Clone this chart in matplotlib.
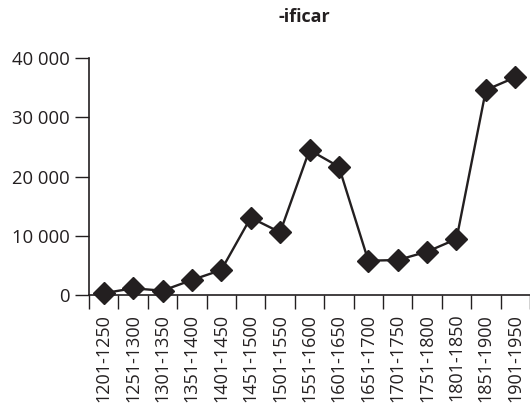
import matplotlib
matplotlib.use("Agg")
import matplotlib.pyplot as plt

categories = ["1201-1250", "1251-1300", "1301-1350", "1351-1400", "1401-1450",
              "1451-1500", "1501-1550", "1551-1600", "1601-1650", "1651-1700",
              "1701-1750", "1751-1800", "1801-1850", "1851-1900", "1901-1950"]
values = [300, 1130, 730, 2530, 4220, 13050, 10580, 24470, 21650, 5790,
          5900, 7310, 9450, 34600, 36740]
yticks = [0, 10000, 20000, 30000, 40000]
ytick_labels = ["0", "10 000", "20 000", "30 000", "40 000"]
title = "-ificar"

plt.rcParams['font.family'] = ['Open Sans', 'DejaVu Sans']
col = "#231f20"

fig = plt.figure(figsize=(5.30, 4.07), dpi=100)
ax = fig.add_axes([89/530, 1 - 295/407, 1 - 89/530, (295 - 58)/407])

x = list(range(len(categories)))
ax.plot(x, values, color=col, lw=1.7, marker="D", ms=11.5, mfc=col, mec=col, clip_on=False, zorder=3)

ax.set_xlim(-0.5, len(categories) - 0.5)
ax.set_ylim(0, 40000)
ax.set_yticks(yticks)
ax.set_yticklabels(ytick_labels)
ax.set_xticks([i + 0.5 for i in range(-1, len(categories))], minor=False)
ax.set_xticklabels([])
ax.set_xticks(x, minor=True)
ax.set_xticklabels(categories, minor=True, rotation=90)
ax.tick_params(axis='x', which='minor', length=0, pad=13.5, labelsize=13, colors=col)
ax.tick_params(axis='x', which='major', length=10, width=1, color=col)
ax.tick_params(axis='y', length=10, width=1, color=col, labelsize=13.3, labelcolor=col, pad=4)

for s in ["top", "right"]:
    ax.spines[s].set_visible(False)
for s in ["left", "bottom"]:
    ax.spines[s].set_color(col)
    ax.spines[s].set_linewidth(1.2)

fig.text(304 / 530, 1 - 17 / 407, title, ha="center", va="center",
         fontsize=13, fontweight="bold", color=col)

fig.savefig("out.png", dpi=100)
